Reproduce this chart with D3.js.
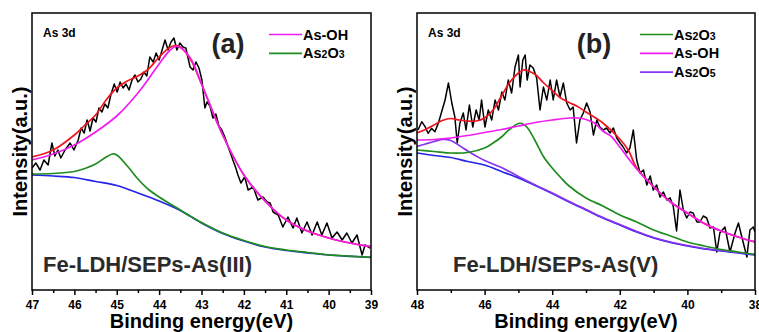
<!DOCTYPE html>
<html>
<head>
<meta charset="utf-8">
<script src="https://cdn.jsdelivr.net/npm/d3@7"></script>
<style>
body { margin: 0; background: #fff; }
svg { display: block; font-family: "Liberation Sans", Arial, sans-serif; font-weight: bold; }
.tick text { font-family: "Liberation Sans Narrow", "Arial Narrow", "Liberation Sans", sans-serif; font-weight: bold; }
</style>
</head>
<body>
<script>
var width = 759;
var height = 332;

// ---------- (a) Fe-LDH/SEPs-As(III) ----------
var rawEA = [47.00,46.91,46.81,46.72,46.62,46.53,46.46,46.39,46.32,46.22,46.10,46.01,45.91,45.84,45.77,45.70,45.63,45.56,45.49,45.42,
  45.35,45.28,45.21,45.14,45.06,44.99,44.92,44.85,44.78,44.71,44.64,44.57,44.50,44.43,44.36,44.29,44.22,44.14,44.07,44.00,
  43.93,43.86,43.79,43.72,43.65,43.58,43.51,43.44,43.37,43.27,43.20,43.13,43.06,42.99,42.92,42.87,42.80,42.73,42.66,42.59,
  42.52,42.45,42.37,42.30,42.26,42.19,42.14,42.07,41.98,41.90,41.78,41.67,41.55,41.45,41.38,41.31,41.19,41.08,40.96,40.84,
  40.75,40.63,40.51,40.39,40.27,40.16,40.04,39.92,39.80,39.68,39.57,39.45,39.33,39.21,39.14,39.02];
var rawIA = [122,127,120,130,125,147,134,140,132,140,147,140,150,162,157,170,159,172,168,182,
  178,186,182,195,206,198,208,202,206,200,210,215,208,211,218,214,233,228,237,230,
  240,250,240,248,252,240,247,243,242,223,220,228,222,210,182,188,184,172,176,164,
  160,153,143,135,130,122,115,107,113,100,103,90,93,88,87,78,75,63,73,62,
  72,57,68,55,68,55,67,52,58,50,57,47,55,35,45,42];

var envEA = [47,46.5,46,45.75,45.5,45.25,45,44.75,44.5,44.25,44,43.75,43.6,43.5,43.25,43,42.5,42,41.5,41,40.5,40,39.5,39];
var envIA = [133,140,155,165,175,190,202,209,214,221,233,242.5,244.5,243,230,206,155,115,89,70,59,52,47,43.3];

var bgEA = [47,46.5,46,45.5,45,44.5,44,43.5,43,42.5,42,41.5,41,40.5,40,39.5,39];
var bgIA = [115,114,112.5,108.5,104.5,97,89,79.5,67,56.5,49,43,39.5,37.2,35,33.7,32.7];

var as2o3EA = [47,46.5,46,45.75,45.5,45.25,45.1,45,44.75,44.5,44.25,44,43.5,43,42.5,42,41.5,41,40.5,40,39.5,39];
var as2o3IA = [116,116.5,118.5,121.5,126,133,136,135,124,111,100.5,93,80,67.5,57,49.5,43.5,40,37.5,35.2,33.8,32.7];

var asohEA = [47,46.5,46,45.5,45,44.5,44,43.75,43.6,43.5,43.25,43,42.5,42,41.5,41,40.5,40,39.5,39];
var asohIA = [130,136,145,158,174,197,226,239.5,243.5,242.5,231,206,155,115,89,70,59,52,47,43.3];

var ticksA = [47,46,45,44,43,42,41,40,39];
var minorTicksA = [46.5,45.5,44.5,43.5,42.5,41.5,40.5,39.5];

// ---------- (b) Fe-LDH/SEPs-As(V) ----------
var rawEB = [47.97,47.86,47.76,47.67,47.57,47.47,47.37,47.27,47.17,47.07,46.97,46.88,46.81,46.73,46.63,46.55,46.45,46.35,46.25,46.16,
  46.09,45.99,45.89,45.79,45.69,45.59,45.49,45.40,45.30,45.20,45.10,45.00,44.95,44.87,44.80,44.74,44.66,44.56,44.46,44.36,
  44.26,44.16,44.06,43.97,43.87,43.77,43.67,43.57,43.47,43.38,43.28,43.18,43.08,42.98,42.88,42.78,42.68,42.59,42.49,42.39,
  42.29,42.19,42.09,41.99,41.90,41.80,41.70,41.60,41.50,41.40,41.30,41.20,41.10,41.01,40.91,40.81,40.71,40.61,40.51,40.42,
  40.32,40.22,40.12,40.02,39.92,39.83,39.72,39.63,39.53,39.43,39.33,39.23,39.13,39.04,38.89,38.74,38.59,38.49,38.39,38.24,
  38.15,38.05,38.00];
var rawIB = [160,168.3,163.3,156.7,161.7,158.3,166.7,178.3,190,207,187,173,147,167,177,160,185,163,180,170,
  190,163,180,170,190,180,198,190,210,197,223,235,203,230,235,210,225,222,212,180,
  203,190,210,190,210,193,207,187,180,183,147,170,177,187,178,155,170,163,160,162,
  157,162,152,147,143,137,142,160,130,117,120,105,114,100,105,93,98,90,92,84,
  59,100,80,72,78,77,68,68,74,72,62,63,38,57,63,38,57,67,53,33,
  60,63,58];

var envEB = [48,47.75,47.5,47.25,47,46.75,46.5,46.25,46,45.75,45.5,45.25,45,44.85,44.75,44.5,44.25,44,43.75,43.5,43.25,43,42.5,42,41.75,41.5,41,40.5,40,39.5,39,38.5,38];
var envIB = [157,160.5,165,169.5,171.5,170,169,169,172,180,194,208,217,220,219.5,215.5,207,199.5,192,187.5,183.5,178,167,151,140,122,103.5,88,77,66.5,59,53,48];

var bgEB = [48,47.5,47,46.5,46,45.5,45,44.5,44,43.5,43,42.5,42,41.5,41,40.5,40,39.5,39,38.5,38];
var bgIB = [137,134.5,132.5,128.5,125,118.5,112,104.5,96.5,88,80,72,65,58,52,47.5,44,41,39,37,35];

var as2o5EB = [48,47.75,47.5,47.25,47,46.75,46.5,46.25,46,45.5,45,44.5,44,43.5,43,42.5,42,41.5,41,40.5,40,39.5,39,38.5,38];
var as2o5IB = [143.5,146,148.5,150.5,149.5,144.5,139,134,129.5,122.5,113.5,105,97,88.5,80.5,72.5,65.5,58.5,52.5,48,44.5,41.5,39.5,37.5,35.5];

var as2o3EB = [48,47.5,47,46.5,46,45.75,45.5,45.25,45,44.9,44.75,44.5,44.25,44,43.75,43.5,43,42.5,42,41.5,41,40.5,40,39.5,39,38.5,38];
var as2o3IB = [140,138.5,137,137.5,142,147,153,161,166.5,166.5,163,149,133,122,112.5,104,92,84,75,68,60,54,48,44,40.5,38,35.5];

var asohEB = [48,47.5,47,46.5,46,45.5,45,44.5,44,43.5,43.25,43,42.75,42.5,42.25,42,41.5,41,40.5,40,39.5,39,38.5,38];
var asohIB = [150,150.5,152,154.5,157.5,160.5,164,167.5,170,172,172,170.5,167,159,153.5,143,121,103,88,77,66.5,59,53,48];

var ticksB = [48,46,44,42,40,38];
var minorTicksB = [47,45,43,41,39];

// colours
var cRaw = "#000000", cEnv = "#f0141e", cBg = "#2424e6", cGreen = "#1e8c1e", cMag = "#f01cf0", cPur = "#8a32f0";

var svg = d3.select("body").append("svg")
    .attr("width", width)
    .attr("height", height);

var y = d3.scaleLinear().domain([0, 277]).range([290, 13]);

var panels = [
  {
    left: 32, right: 371, domain: [47, 39], ticks: ticksA, minor: minorTicksA,
    tag: "(a)", tagX: 228, sample: "Fe-LDH/SEPs-As(III)", sampleX: 43, ytitleX: 27,
    legendX: 269,
    legend: [["As-OH", cMag], ["As2O3", cGreen]],
    curves: [
      [rawEA, rawIA, cRaw, true],
      [envEA, envIA, cEnv],
      [bgEA, bgIA, cBg],
      [as2o3EA, as2o3IA, cGreen],
      [asohEA, asohIA, cMag]
    ]
  },
  {
    left: 417, right: 755, domain: [48, 38], ticks: ticksB, minor: minorTicksB,
    tag: "(b)", tagX: 594, sample: "Fe-LDH/SEPs-As(V)", sampleX: 453, ytitleX: 412,
    legendX: 640,
    legend: [["As2O3", cGreen], ["As-OH", cMag], ["As2O5", cPur]],
    curves: [
      [rawEB, rawIB, cRaw, true],
      [envEB, envIB, cEnv],
      [bgEB, bgIB, cBg],
      [as2o5EB, as2o5IB, cPur],
      [as2o3EB, as2o3IB, cGreen],
      [asohEB, asohIB, cMag]
    ]
  }
];

panels.forEach(drawPanel);

function drawPanel(p) {
    var x = d3.scaleLinear().domain(p.domain).range([p.left, p.right]);
    var g = svg.append("g");

    var clipId = "clip" + p.left;
    svg.append("clipPath").attr("id", clipId)
      .append("rect")
        .attr("x", p.left).attr("y", 13)
        .attr("width", p.right - p.left).attr("height", 277);

    var plot = g.append("g").attr("clip-path", "url(#" + clipId + ")");

    p.curves.forEach(function(c) {
        var line = d3.line()
            .x(function(d) { return x(d[0]); })
            .y(function(d) { return y(d[1]); })
            .curve(c[3] ? d3.curveLinear : d3.curveCatmullRom.alpha(0.5));
        plot.append("path")
            .datum(d3.zip(c[0], c[1]))
            .attr("d", line)
            .attr("fill", "none")
            .attr("stroke", c[2])
            .attr("stroke-width", c[3] ? 1.5 : 1.7)
            .attr("stroke-linejoin", "round");
    });

    // frame
    g.append("rect")
        .attr("x", p.left).attr("y", 13)
        .attr("width", p.right - p.left).attr("height", 277)
        .attr("fill", "none")
        .attr("stroke", "#000")
        .attr("stroke-width", 1.5);

    // bottom axis
    var major = d3.axisBottom(x).tickValues(p.ticks).tickSize(5).tickPadding(5).tickFormat(d3.format("d"));
    var minor = d3.axisBottom(x).tickValues(p.minor).tickSize(3).tickFormat("");

    var ax = g.append("g").attr("transform", "translate(0,290)").call(major);
    ax.select(".domain").remove();
    ax.selectAll("line").attr("stroke-width", 1.5);
    ax.selectAll("text").attr("font-size", 12).attr("fill", "#000");

    var axm = g.append("g").attr("transform", "translate(0,290)").call(minor);
    axm.select(".domain").remove();
    axm.selectAll("line").attr("stroke-width", 1.5);

    g.append("text")
        .attr("x", (p.left + p.right) / 2)
        .attr("y", 328)
        .attr("text-anchor", "middle")
        .attr("font-size", 20)
        .text("Binding energy(eV)");

    g.append("text")
        .attr("transform", "translate(" + p.ytitleX + ",151.5)rotate(-90)")
        .attr("text-anchor", "middle")
        .attr("font-size", 20)
        .text("Intensity(a.u.)");

    g.append("text")
        .attr("x", p.left + 11)
        .attr("y", 37)
        .attr("font-size", 12)
        .text("As 3d");

    g.append("text")
        .attr("x", p.tagX)
        .attr("y", 53)
        .attr("text-anchor", "middle")
        .attr("font-size", 27)
        .attr("fill", "#222")
        .text(p.tag);

    g.append("text")
        .attr("x", p.sampleX)
        .attr("y", 272)
        .attr("font-size", 22)
        .attr("fill", "#2b2b2b")
        .text(p.sample);

    // legend
    p.legend.forEach(function(l, i) {
        var ly = 34.5 + i * 18.8;
        g.append("line")
            .attr("x1", p.legendX).attr("x2", p.legendX + 33)
            .attr("y1", ly).attr("y2", ly)
            .attr("stroke", l[1])
            .attr("stroke-width", 1.7);
        var t = g.append("text")
            .attr("x", p.legendX + 34)
            .attr("y", ly + 5)
            .attr("font-size", 14.5);
        writeFormula(t, l[0]);
    });
}

// digits in oxide names are drawn smaller, as in the figure
function writeFormula(t, s) {
    s.split(/(\d)/).forEach(function(part) {
        if (part === "") return;
        var isDigit = /\d/.test(part);
        t.append("tspan")
            .attr("font-size", isDigit ? 10.5 : 14.5)
            .text(part);
    });
}
</script>
</body>
</html>
